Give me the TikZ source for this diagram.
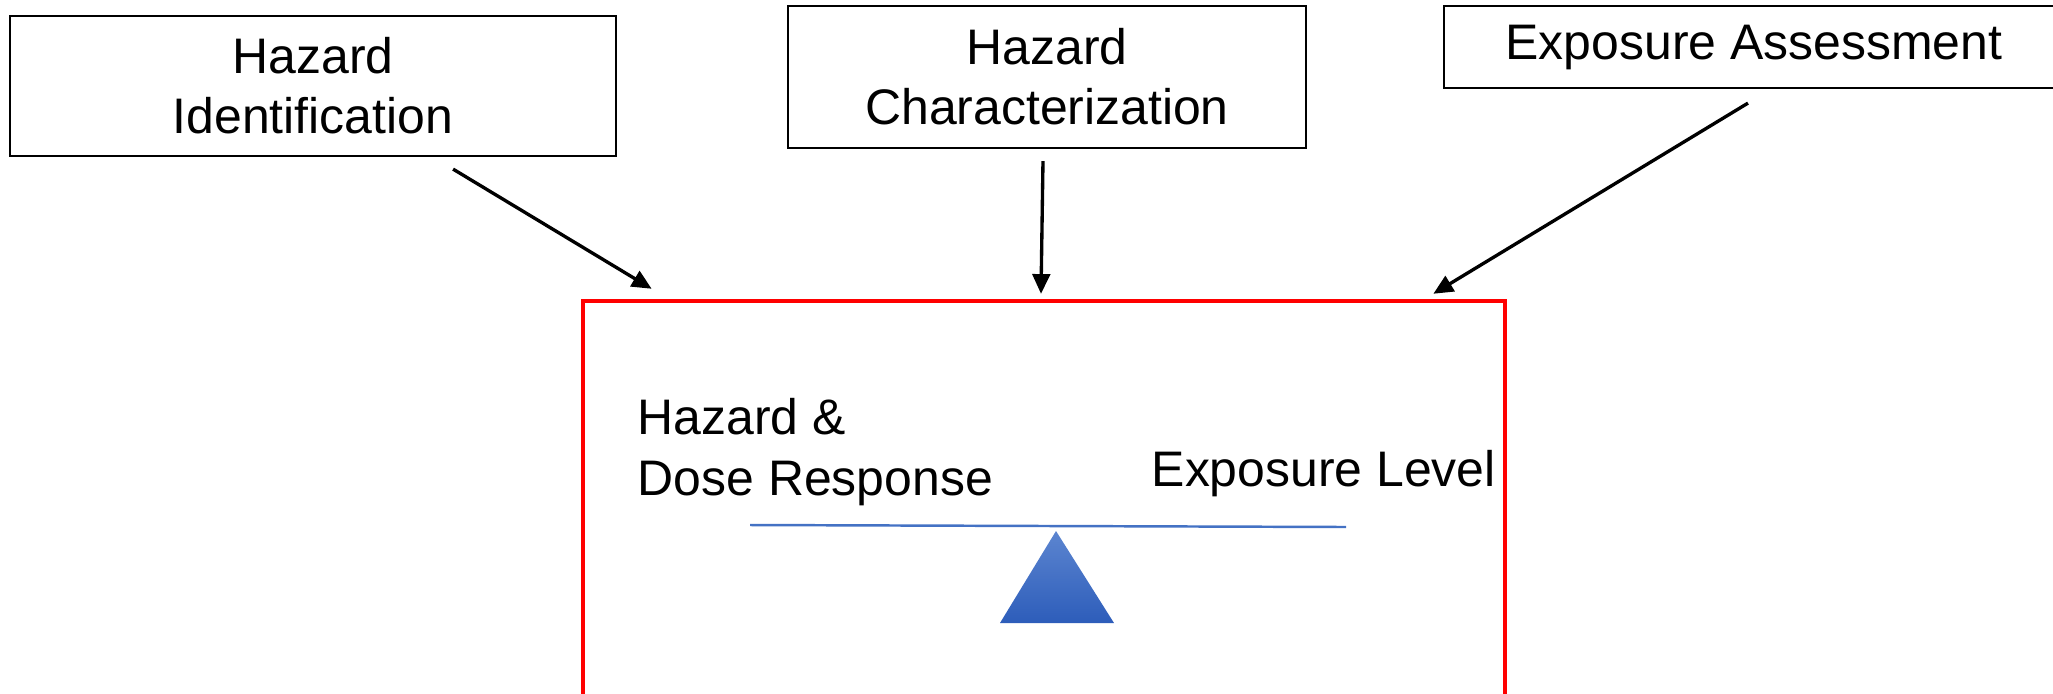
\documentclass[tikz,border=0pt]{standalone}
\usepackage{fontspec}
\setmainfont{Liberation Sans}
\usepackage{tikz}
\usetikzlibrary{arrows.meta, positioning, calc}
\definecolor{riskred}{HTML}{FF0000}
\definecolor{beamblue}{HTML}{4472C4}
\definecolor{pivottop}{HTML}{5C85D0}
\definecolor{pivotbot}{HTML}{2D5DBA}

\begin{document}
\begin{tikzpicture}[
    x=0.01cm, y=-0.01cm,
    stage/.style={rectangle, draw=black, line width=0.6pt, align=center,
                  inner sep=0pt, font=\fontsize{14.2}{17.1}\selectfont},
    feed/.style={-{Triangle[length=5.6pt, width=5pt]}, line width=0.95pt, black},
    plain/.style={align=left, inner sep=0pt, font=\fontsize{14.2}{17.4}\selectfont},
]
    \useasboundingbox (0,0) rectangle (2053,693);
    \clip (0,0) rectangle (2053,693);

    % Assessment stages
    \node[stage, minimum width=6.05cm, minimum height=1.40cm] (hazid) at (313,86) {Hazard\\Identification};
    \node[stage, minimum width=5.17cm, minimum height=1.42cm] (hazchar) at (1047,77) {Hazard\\Characterization};
    \node[stage, minimum width=6.20cm, minimum height=0.82cm] (expo) at (1754,47) {Exposure Assessment};

    % Risk box
    \node[rectangle, draw=riskred, line width=1.2pt, minimum width=9.22cm, minimum height=4.10cm] (risk) at (1044,506) {};

    % Balance
    \node[plain, anchor=west] (dose) at (637,452) {Hazard \&\\Dose Response};
    \node[plain, anchor=west] (level) at (1151,474) {Exposure Level};
    \draw[beamblue, line width=0.7pt] (750,525) -- (1346,527);
    \shade[top color=pivottop, bottom color=pivotbot] (1056,531) -- (1114,623) -- (1000,623) -- cycle;

    % Arrows
    \draw[feed] ([xshift=1.40cm, yshift=-0.12cm]hazid.south) -- ([xshift=0.71cm, yshift=0.10cm]risk.north west);
    \draw[feed] ([xshift=-0.04cm, yshift=-0.12cm]hazchar.south) -- ([xshift=-0.03cm, yshift=0.05cm]risk.north);
    \draw[feed] ([xshift=-0.06cm, yshift=-0.14cm]expo.south) -- ([xshift=-0.74cm, yshift=0.05cm]risk.north east);
\end{tikzpicture}
\end{document}
